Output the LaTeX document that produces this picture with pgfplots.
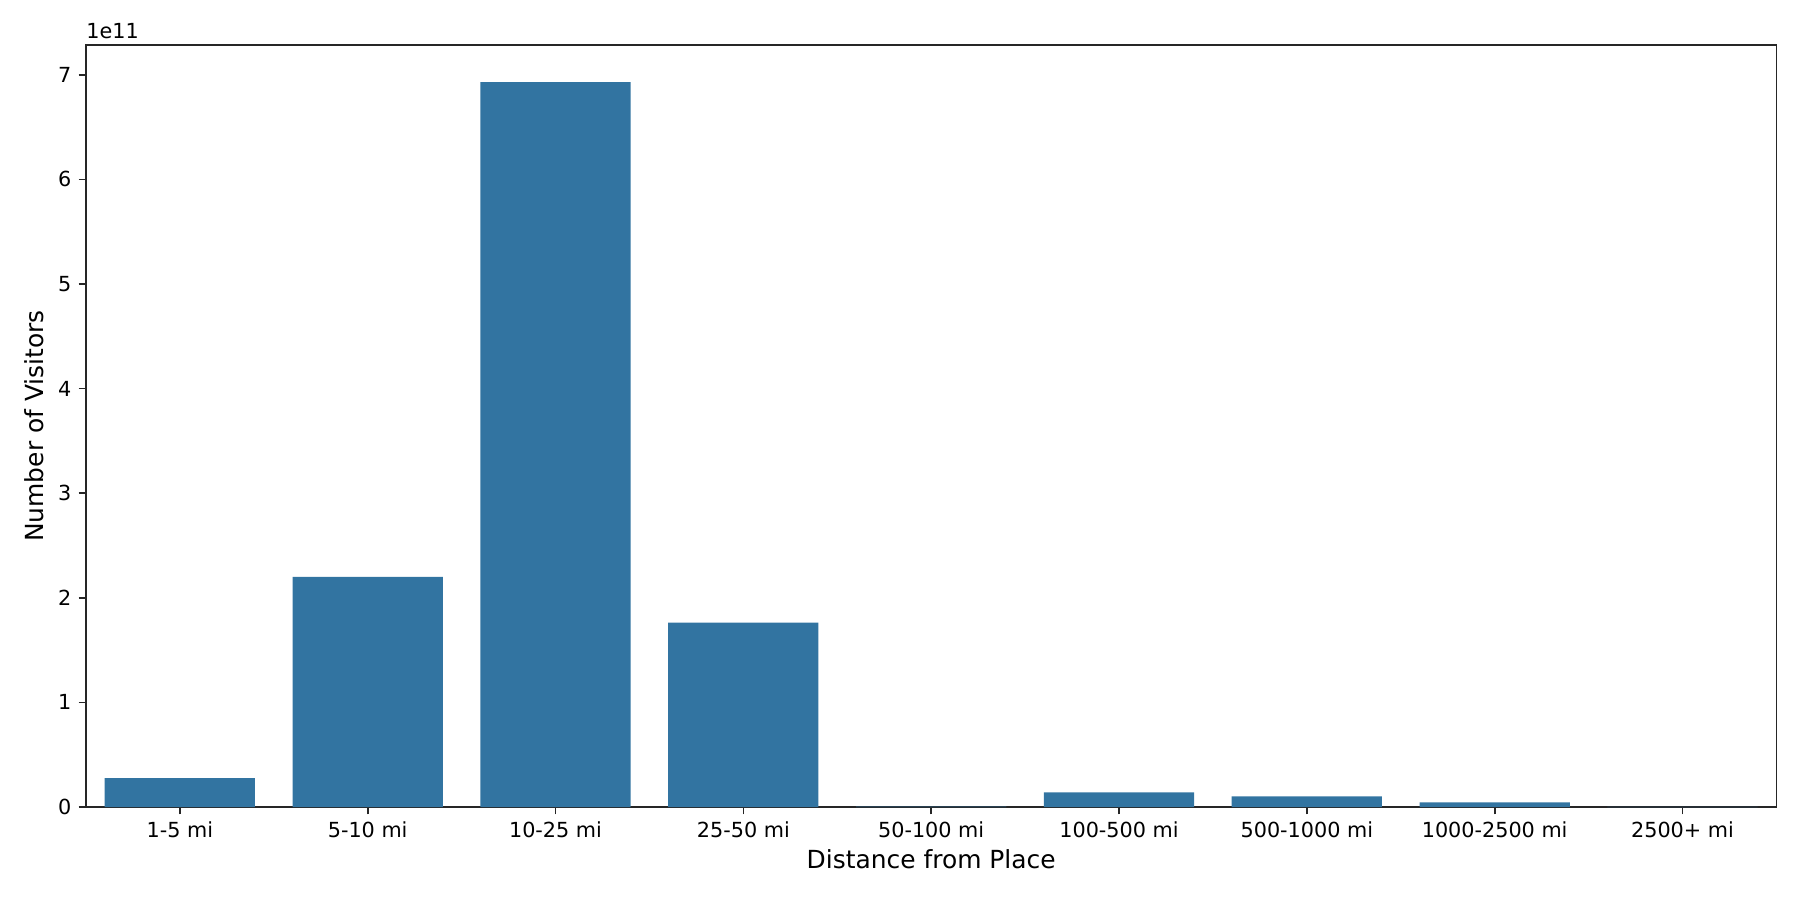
\documentclass[border=0pt]{standalone}
\usepackage{pgfplots}
\pgfplotsset{compat=1.18}
\usepackage{fontspec}
\setmainfont{DejaVu Sans}
\definecolor{barblue}{RGB}{50,116,161}
\definecolor{axgray}{RGB}{38,38,38}
\begin{document}
\begin{tikzpicture}
\path[use as bounding box] (0,0) rectangle (12in,6in);
\begin{axis}[
  at={(0.573in,0.62in)}, anchor=south west,
  scale only axis, width=11.27in, height=5.08in,
  xmin=-0.5, xmax=8.5, ymin=0, ymax=7.285e11,
  xtick={0,...,8},
  xticklabels={1-5 mi,5-10 mi,10-25 mi,25-50 mi,50-100 mi,100-500 mi,500-1000 mi,1000-2500 mi,2500+ mi},
  ytick={0,1e11,2e11,3e11,4e11,5e11,6e11,7e11},
  scaled y ticks=base 10:-11,
  ytick scale label code/.code={1e11},
  every y tick scale label/.style={at={(rel axis cs:0,1)}, anchor=south west, inner sep=0pt, yshift=3pt, font=\fontsize{10}{12}\selectfont},
  tick label style={font=\fontsize{10}{12}\selectfont, text=black},
  /pgf/number format/assume math mode=true,
  tick align=outside, tick pos=left,
  major tick length=3.5pt,
  every tick/.style={axgray, line width=0.8pt},
  axis line style={axgray, line width=0.8pt},
  xlabel={Distance from Place}, ylabel={Number of Visitors},
  label style={font=\fontsize{12}{14}\selectfont},
  xlabel style={yshift=1pt},
  ylabel style={yshift=0pt},
  ybar, bar width=0.8,
]
\addplot[fill=barblue, draw=none] coordinates {
  (0,2.77e10) (1,2.20e11) (2,6.93e11) (3,1.762e11) (4,4.0e8)
  (5,1.40e10) (6,1.02e10) (7,4.5e9) (8,2.0e8)
};
\end{axis}
\end{tikzpicture}
\end{document}
